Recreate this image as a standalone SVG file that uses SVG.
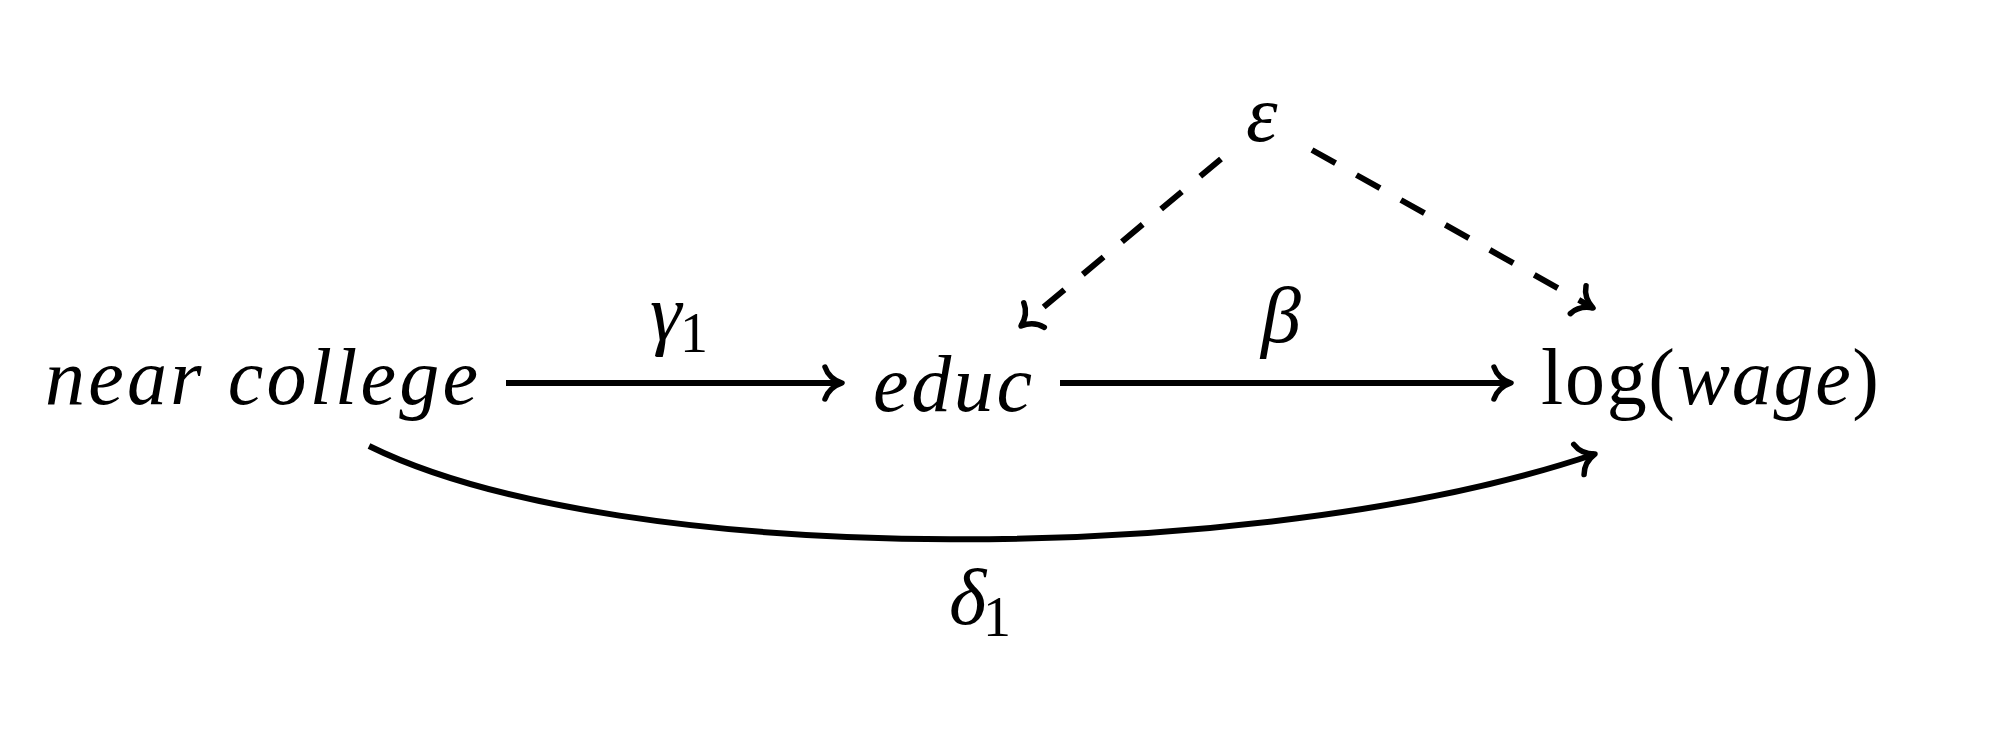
<svg xmlns="http://www.w3.org/2000/svg" width="1998" height="734" viewBox="0 0 1998 734">
<style>
.t{font-family:"Liberation Serif","DejaVu Serif",serif;font-size:80px;fill:#000}
.i{font-style:italic}
.s{font-size:56px}
.e{fill:none;stroke:#000;stroke-width:6}
.d{stroke-dasharray:27 24}
.h{fill:none;stroke:#000;stroke-width:5.5;stroke-linecap:round;stroke-linejoin:round;stroke-dasharray:0}
</style>
<defs>
<marker id="arr" markerUnits="userSpaceOnUse" markerWidth="60" markerHeight="60" refX="0" refY="0" orient="auto" overflow="visible">
<path class="h" d="M-17,-16 C-14,-7 -6,-2 0,0 C-6,2 -14,7 -17,16"/>
</marker>
</defs>
<rect width="1998" height="734" fill="#fff"/>
<g id="connectors">
<line class="e" x1="506" y1="383" x2="842" y2="383" marker-end="url(#arr)"/>
<line class="e" x1="1060" y1="383" x2="1511" y2="383" marker-end="url(#arr)"/>
<line class="e d" x1="1221" y1="159" x2="1021" y2="326" marker-end="url(#arr)"/>
<line class="e d" x1="1312" y1="150" x2="1593" y2="308" marker-end="url(#arr)"/>
<path class="e" d="M369,446 C620,570 1260,568 1595,454" marker-end="url(#arr)"/>
<text class="t i" x="650" y="340">γ<tspan class="s" font-style="normal" x="680" y="352">1</tspan></text>
<text class="t i" x="1261" y="342">β</text>
<text class="t i" x="949" y="624">δ<tspan class="s" font-style="normal" x="983" y="636">1</tspan></text>
</g>
<g id="near-college"><text class="t i" x="45" y="404" textLength="433" lengthAdjust="spacing">near college</text></g>
<g id="educ"><text class="t i" x="873" y="411" textLength="159" lengthAdjust="spacing">educ</text></g>
<g id="log-wage"><text class="t" x="1541" y="404" textLength="338" lengthAdjust="spacing">log(<tspan class="i">wage</tspan>)</text></g>
<g id="epsilon"><text class="t i" x="1246" y="141">ε</text></g>
</svg>
